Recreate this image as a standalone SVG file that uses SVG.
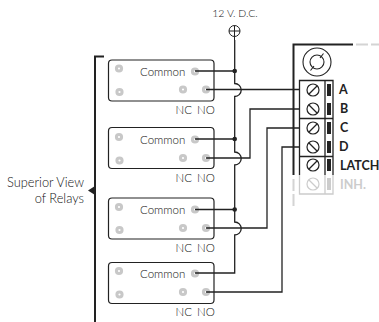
<svg xmlns="http://www.w3.org/2000/svg" width="379" height="322" viewBox="0 0 379 322">
<style>
.t{font-family:"Lato","Open Sans",sans-serif;font-weight:300;font-size:11.5px;fill:#111}
.l{font-size:12.8px}
.v{font-size:10.500px}
.b{font-family:"Lato","Open Sans",sans-serif;font-weight:700;font-size:12.5px;fill:#222}
.box{fill:#fff;stroke:#222;stroke-width:1.2}
.pin{fill:#fff;stroke:#c8c8c8;stroke-width:3}
.w{fill:none;stroke:#222;stroke-width:1.3}
.th{fill:none;stroke:#222;stroke-width:2}
.s{fill:#fff;stroke:#222;stroke-width:1.2}
.sg{fill:#fff;stroke:#ccc;stroke-width:1.2}
</style>
<g id="supply"><circle cx="234.500" cy="31" r="5.500" fill="none" stroke="#222" stroke-width="1"/><path d="M229 31H240M234.500 25.500V40" stroke="#222" stroke-width="1"/><text class="t v" x="235" y="17" text-anchor="middle">12 V. D.C.</text></g>
<g id="bracket"><path class="th" d="M104 56.500H95V322"/><path d="M88 190.500L95 186V195Z" fill="#222"/><text class="t l" x="84" y="186.500" text-anchor="end">Superior View</text><text class="t l" x="84" y="203" text-anchor="end">of Relays</text></g>
<g id="relay1"><rect class="box" x="108.500" y="60" width="105.500" height="41" rx="3.500"/><circle class="pin" cx="119" cy="68.500" r="2.600"/><circle class="pin" cx="119.500" cy="92" r="2.600"/><circle class="pin" cx="195" cy="71.500" r="2.600"/><circle class="pin" cx="183" cy="89.500" r="2.600"/><circle class="pin" cx="206" cy="89.500" r="2.600"/><text class="t" x="140" y="75.500">Common</text><text class="t" x="175.500" y="114">NC</text><text class="t" x="197" y="114">NO</text></g>
<g id="relay2"><rect class="box" x="108.500" y="127.500" width="105.500" height="41" rx="3.500"/><circle class="pin" cx="119" cy="137" r="2.600"/><circle class="pin" cx="119.500" cy="160.500" r="2.600"/><circle class="pin" cx="195" cy="139.500" r="2.600"/><circle class="pin" cx="183" cy="158" r="2.600"/><circle class="pin" cx="206" cy="158" r="2.600"/><text class="t" x="140" y="144">Common</text><text class="t" x="175.500" y="182">NC</text><text class="t" x="197" y="182">NO</text></g>
<g id="relay3"><rect class="box" x="108.500" y="198" width="105.500" height="41" rx="3.500"/><circle class="pin" cx="119" cy="207" r="2.600"/><circle class="pin" cx="119.500" cy="230" r="2.600"/><circle class="pin" cx="195" cy="209.500" r="2.600"/><circle class="pin" cx="183" cy="228" r="2.600"/><circle class="pin" cx="206" cy="228" r="2.600"/><text class="t" x="140" y="214">Common</text><text class="t" x="175.500" y="252">NC</text><text class="t" x="197" y="252">NO</text></g>
<g id="relay4"><rect class="box" x="108.500" y="262.500" width="105.500" height="41" rx="3.500"/><circle class="pin" cx="119" cy="271" r="2.600"/><circle class="pin" cx="119.500" cy="294.500" r="2.600"/><circle class="pin" cx="195" cy="273.500" r="2.600"/><circle class="pin" cx="183" cy="292" r="2.600"/><circle class="pin" cx="206" cy="292" r="2.600"/><text class="t" x="140" y="278">Common</text><text class="t" x="175.500" y="316">NC</text><text class="t" x="197" y="316">NO</text></g>
<g id="terminal">
<path class="th" d="M293.500 175V44.500H353"/>
<path d="M356 44.500H379M293.500 179V206" stroke="#d4d4d4" stroke-width="2" stroke-dasharray="12 3" fill="none"/>
<circle cx="317" cy="62" r="14" fill="none" stroke="#222" stroke-width="1.100"/>
<circle cx="317" cy="62" r="7" fill="none" stroke="#222" stroke-width="1.100"/>
<path d="M310.500 70.500L314 66M320 58L323.500 53.500" stroke="#222" stroke-width="1.100"/>
<path d="M299.500 175V80.500H333V175M325 80.500V175" fill="none" stroke="#222" stroke-width="1.300"/>
<path d="M299.500 118.500H333M299.500 156.500H333" stroke="#222" stroke-width="1.300"/>
<path d="M299.500 175V194H333V175M325 175V194" fill="none" stroke="#ccc" stroke-width="1.300"/>
<g id="screws">
<circle class="s" cx="313" cy="90" r="6"/><path d="M309 94L317 86" stroke="#222" stroke-width="1.200"/>
<circle class="s" cx="313" cy="109" r="6"/><path d="M309 105L317 113" stroke="#222" stroke-width="1.200"/>
<circle class="s" cx="313" cy="128" r="6"/><path d="M309 132L317 124" stroke="#222" stroke-width="1.200"/>
<circle class="s" cx="313" cy="147" r="6"/><path d="M309 143L317 151" stroke="#222" stroke-width="1.200"/>
<circle class="s" cx="313" cy="165" r="6"/><path d="M309 169L317 161" stroke="#222" stroke-width="1.200"/>
<circle class="sg" cx="313" cy="184" r="6"/><path d="M309 180L317 188" stroke="#ccc" stroke-width="1.200"/>
</g>
<rect x="327" y="84" width="4" height="12" fill="#222"/><rect x="327" y="103" width="4" height="12" fill="#222"/><rect x="327" y="122" width="4" height="12" fill="#222"/><rect x="327" y="141" width="4" height="12" fill="#222"/><rect x="327" y="159" width="4" height="12" fill="#222"/><rect x="327" y="178" width="4" height="12" fill="#ccc"/>
<text class="b" x="339" y="94">A</text><text class="b" x="340" y="113">B</text><text class="b" x="340" y="132">C</text><text class="b" x="339" y="151">D</text><text class="b" x="340" y="170">LATCH</text><text class="b" x="340" y="189" style="fill:#ccc">INH.</text>
</g>
<g id="connectors">
<path class="w" d="M234.700 40V83.500A6.500 6.500 0 0 1 234.700 96.500V152A6.500 6.500 0 0 1 234.700 165V222A6.500 6.500 0 0 1 234.700 235V273H195"/>
<path class="w" d="M195 71H234.700M195 139H234.700M195 209.500H234.700"/>
<circle cx="234.700" cy="71" r="2.300" fill="#222"/><circle cx="234.700" cy="139" r="2.300" fill="#222"/><circle cx="234.700" cy="209.500" r="2.300" fill="#222"/>
<path class="w" d="M206 89.500H299"/>
<path class="w" d="M206 158H250V109H299"/>
<path class="w" d="M206 228H267V128H299"/>
<path class="w" d="M206 292H282V147H299"/>
</g>
</svg>
